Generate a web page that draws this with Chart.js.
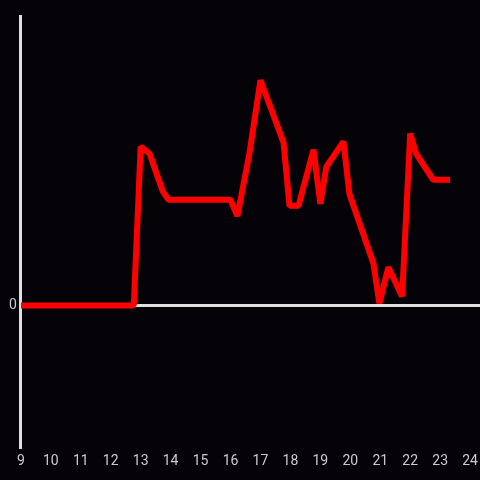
<!DOCTYPE html>
<html>
<head>
<meta charset="utf-8">
<script src="https://cdn.jsdelivr.net/npm/chart.js@4"></script>
<style>
  html, body { margin: 0; padding: 0; background: #050308; }
  #wrap { width: 480px; height: 480px; }
</style>
</head>
<body>
<div id="wrap"><canvas id="myChart"></canvas></div>
<script>
// Data (hour of day, value)
const hours = [9.0, 12.77, 13.0, 13.3, 13.73, 13.93, 16.0, 16.23, 16.63, 17.0, 17.77, 17.97, 18.27,
  18.77, 19.0, 19.2, 19.77, 19.97, 20.77, 20.97, 21.27, 21.73, 22.0, 22.2, 22.77, 23.33];
const values = [0, 0, 54.9, 52.4, 39.6, 36.5, 36.5, 30.9, 52.4, 77.8, 56.3, 34.4, 34.4,
  53.8, 35.1, 47.9, 56.6, 38.5, 14.6, 0.7, 13.2, 3.1, 59.4, 52.4, 43.4, 43.4];
const xTicks = [9, 10, 11, 12, 13, 14, 15, 16, 17, 18, 19, 20, 21, 22, 23, 24];

const points = hours.map((h, i) => ({ x: h, y: values[i] }));

// paint the dark background behind the chart
const bgPlugin = {
  id: 'bg',
  beforeDraw(chart) {
    const c = chart.ctx;
    c.save();
    c.fillStyle = '#050308';
    c.fillRect(0, 0, chart.width, chart.height);
    c.restore();
  }
};

const ctx = document.getElementById('myChart').getContext('2d');
const myChart = new Chart(ctx, {
  type: 'line',
  data: {
    datasets: [{
      data: points,
      borderColor: '#ff0000',
      borderWidth: 6,
      pointRadius: 0,
      tension: 0,
      borderCapStyle: 'butt',
      borderJoinStyle: 'bevel'
    }]
  },
  options: {
    responsive: true,
    maintainAspectRatio: false,
    animation: false,
    layout: { padding: { top: 16, right: 0, bottom: 4, left: 5 } },
    plugins: {
      legend: { display: false },
      tooltip: { enabled: false }
    },
    scales: {
      x: {
        type: 'linear',
        min: 9,
        max: 24.33,
        afterBuildTicks: (axis) => {
          axis.ticks = xTicks.map(v => ({ value: v }));
        },
        afterFit: (axis) => {
          // the last label fits, no extra room on the right
          axis.paddingRight = 0;
          axis.paddingLeft = 0;
        },
        grid: { display: false, drawTicks: false },
        border: { display: false },
        ticks: {
          color: '#cccccc',
          font: { family: 'Roboto', size: 14 },
          padding: 6,
          maxRotation: 0,
          autoSkip: false
        }
      },
      y: {
        min: -49,
        max: 100,
        afterBuildTicks: (axis) => {
          axis.ticks = [{ value: -49 }, { value: 0 }, { value: 100 }];
        },
        grid: {
          drawTicks: false,
          color: (c) => c.tick && c.tick.value === 0 ? '#e0e0e0' : 'rgba(0,0,0,0)',
          lineWidth: 3
        },
        border: { display: true, color: '#e0e0e0', width: 3 },
        ticks: {
          color: '#cccccc',
          font: { family: 'Roboto', size: 14 },
          padding: 4,
          callback: (v) => v === 0 ? '0' : ''
        }
      }
    }
  },
  plugins: [bgPlugin]
});
</script>
</body>
</html>
